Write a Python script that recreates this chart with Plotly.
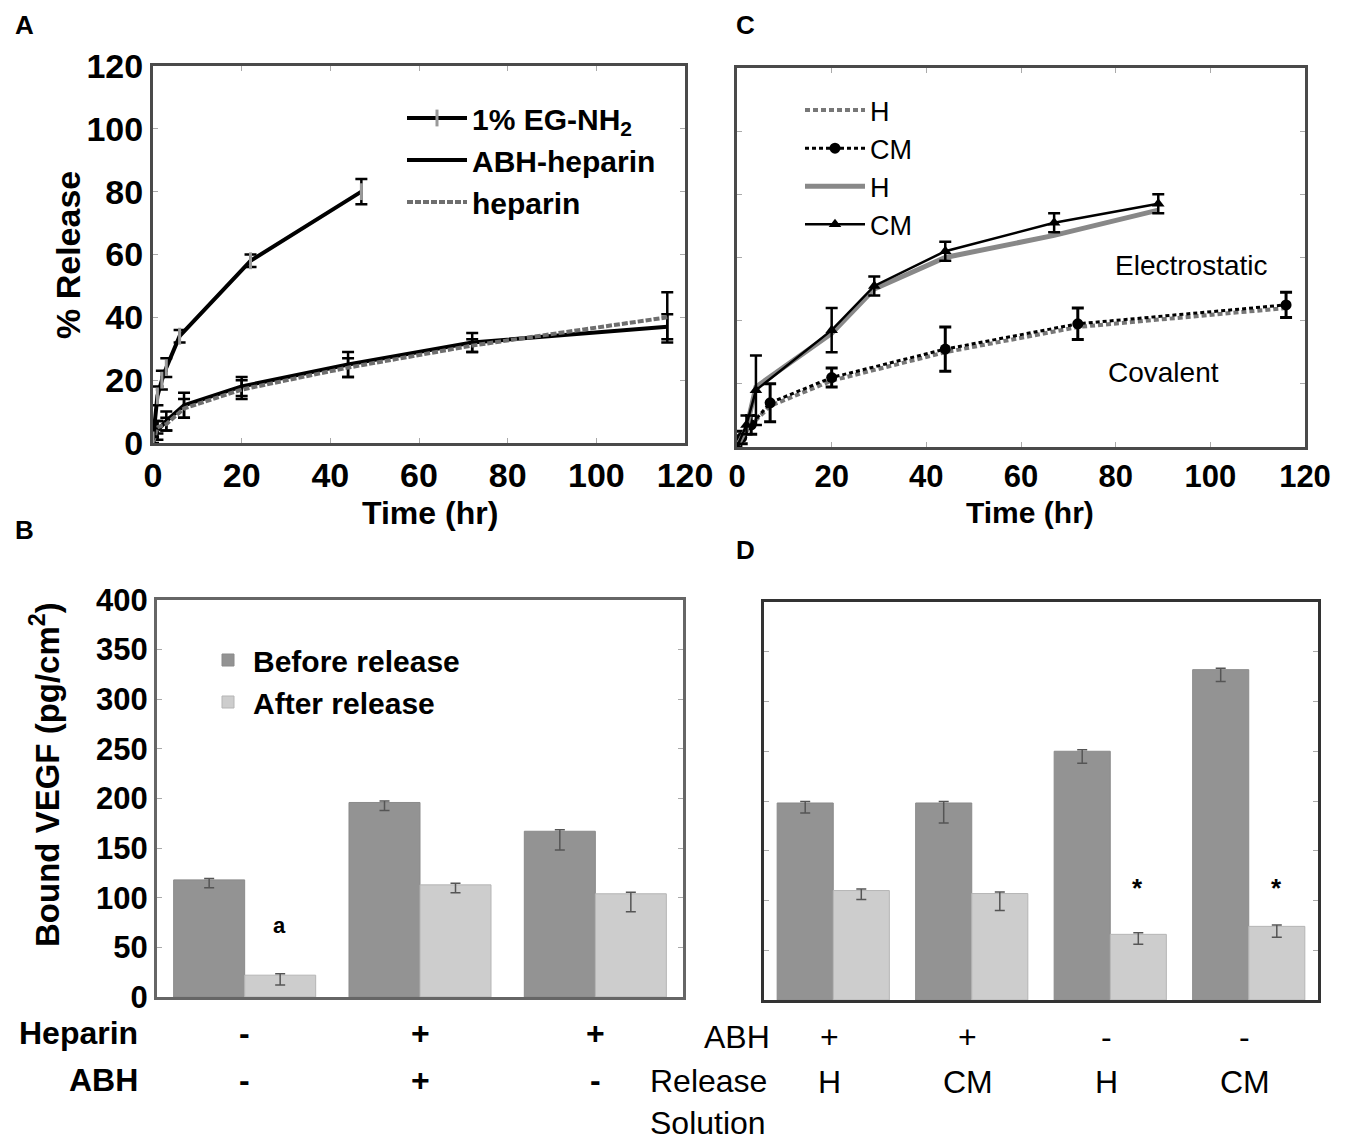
import plotly.graph_objects as go

# ---------------- data ----------------
# Panel A: % release vs time
a_t_eg = [0, 1, 2, 3, 6, 22, 47]
a_y_eg = [1, 15, 20, 24, 34, 58, 80]
a_e_eg = [1, 3, 3, 3, 2, 2, 4]

a_t_abh = [0, 1, 3, 7, 20, 44, 72, 116]
a_y_abh = [0, 4, 7, 12, 18, 25, 32, 37]
a_e_abh = [1, 3, 3, 4, 3, 4, 3, 4]

a_t_hep = [0, 1, 3, 7, 20, 44, 72, 116]
a_y_hep = [0, 5, 6, 11, 17, 24, 31, 40]
a_e_hep = [1, 2, 2, 3, 3, 3, 2, 8]

# Panel C: covalent vs electrostatic
c_t_cov = [0, 1, 3, 7, 20, 44, 72, 116]
c_y_cov_h = [0, 3, 7, 13, 21, 30, 38, 44]
c_y_cov_cm = [0, 3, 7, 14, 22, 31, 39, 45]
c_e_cov_cm = [1, 2, 3, 6, 3, 7, 5, 4]

c_t_el = [0, 2, 4, 20, 29, 44, 67, 89]
c_y_el_h = [0, 6, 19, 36, 50, 60, 67, 75]
c_y_el_cm = [0, 7, 18, 37, 51, 62, 71, 77]
c_e_el = [1, 3, 11, 7, 3, 3, 3, 3]

# Panel B: bound VEGF
b_groups = ["no heparin", "ABH-heparin", "heparin"]
b_before = [118, 196, 167]
b_before_minus = [8, 8, 19]
b_after = [22, 113, 104]
b_after_minus = [10, 8, 18]
b_heparin = ["-", "+", "+"]
b_abh = ["-", "+", "-"]

# Panel D
d_groups = ["ABH+ H", "ABH+ CM", "ABH- H", "ABH- CM"]
d_before = [198, 198, 250, 332]
d_before_minus = [10, 20, 12, 12]
d_after = [110, 107, 66, 74]
d_after_minus = [9, 17, 10, 11]
d_abh = ["+", "+", "-", "-"]
d_solution = ["H", "CM", "H", "CM"]

# ---------------- styling ----------------
FONT = "Liberation Sans, Arial, sans-serif"
BOLD = dict(family=FONT, size=34, color="black", weight="bold")
W, H = 1347, 1138
OX, OY = 8, 8  # page body margin


def X(p):
    return (p - OX) / W


def Y(p):
    return 1 - (p - OY) / H


def px(x0, x1):
    return [X(x0), X(x1)]


def py(top, bottom):
    return [Y(bottom), Y(top)]


fig = go.Figure()

# ---- Panel A ----
eb = lambda arr, c="black", w=6, t=2.5: dict(type="data", array=arr, color=c, thickness=t, width=w)
fig.add_trace(go.Scatter(x=a_t_abh, y=a_y_abh, mode="lines", name="ABH-heparin",
                         line=dict(color="black", width=4), error_y=eb(a_e_abh),
                         xaxis="x", yaxis="y", legend="legend", legendrank=2))
fig.add_trace(go.Scatter(x=a_t_hep, y=a_y_hep, mode="lines", name="heparin",
                         line=dict(color="#6e6e6e", width=4, dash="6px,2px"), error_y=eb(a_e_hep),
                         xaxis="x", yaxis="y", legend="legend", legendrank=3))
fig.add_trace(go.Scatter(x=a_t_eg, y=a_y_eg, mode="lines+markers", name="1% EG-NH<sub>2</sub>",
                         line=dict(color="black", width=4),
                         marker=dict(symbol="line-ns", size=12, line=dict(color="#999", width=3)),
                         error_y=eb(a_e_eg), xaxis="x", yaxis="y", legend="legend", legendrank=1))

# ---- Panel C ----
fig.add_trace(go.Scatter(x=c_t_cov, y=c_y_cov_h, mode="lines", name="H",
                         line=dict(color="#777", width=4, dash="5px,3px"),
                         xaxis="x2", yaxis="y2", legend="legend2", legendrank=1))
fig.add_trace(go.Scatter(x=c_t_cov, y=c_y_cov_cm, mode="lines+markers", name="CM",
                         line=dict(color="black", width=3, dash="4px,3px"),
                         marker=dict(symbol="circle", size=11, color="black"),
                         error_y=eb(c_e_cov_cm, w=6, t=3),
                         xaxis="x2", yaxis="y2", legend="legend2", legendrank=2))
fig.add_trace(go.Scatter(x=c_t_el, y=c_y_el_h, mode="lines", name="H ",
                         line=dict(color="#888", width=5),
                         xaxis="x2", yaxis="y2", legend="legend2", legendrank=3))
fig.add_trace(go.Scatter(x=c_t_el, y=c_y_el_cm, mode="lines+markers", name="CM ",
                         line=dict(color="black", width=2.5),
                         marker=dict(symbol="triangle-up", size=11, color="black"),
                         error_y=eb(c_e_el, w=6, t=2.5),
                         xaxis="x2", yaxis="y2", legend="legend2", legendrank=4))

# ---- Panel B ----
bar_err = lambda m: dict(type="data", symmetric=False, array=[1.5] * len(m), arrayminus=m,
                         color="#555", thickness=1.5, width=5)
fig.add_trace(go.Bar(x=b_groups, y=b_before, name="Before release",
                     marker=dict(color="#939393", line=dict(color="#8a8a8a", width=1)),
                     error_y=bar_err(b_before_minus), xaxis="x3", yaxis="y3", legend="legend3"))
fig.add_trace(go.Bar(x=b_groups, y=b_after, name="After release",
                     marker=dict(color="#cdcdcd", line=dict(color="#b5b5b5", width=1)),
                     error_y=bar_err(b_after_minus), xaxis="x3", yaxis="y3", legend="legend3"))

# ---- Panel D ----
fig.add_trace(go.Bar(x=d_groups, y=d_before, name="Before release", showlegend=False,
                     marker=dict(color="#939393", line=dict(color="#8a8a8a", width=1)),
                     error_y=bar_err(d_before_minus), xaxis="x4", yaxis="y4"))
fig.add_trace(go.Bar(x=d_groups, y=d_after, name="After release", showlegend=False,
                     marker=dict(color="#cdcdcd", line=dict(color="#b5b5b5", width=1)),
                     error_y=bar_err(d_after_minus), xaxis="x4", yaxis="y4"))

axis_common = dict(showgrid=False, zeroline=False, showline=True, mirror="ticks",
                   linecolor="#4a4a4a", linewidth=3, ticks="inside", ticklen=5,
                   tickcolor="#aaa", tickfont=BOLD, automargin=False)

annotations = []


def ann(text, x, y, size=34, bold=True, xanchor="center", yanchor="middle", angle=0,
        xref="paper", yref="paper", color="black", align="center"):
    f = dict(family=FONT, size=size, color=color)
    if bold:
        f["weight"] = "bold"
    annotations.append(dict(text=text, x=x, y=y, xref=xref, yref=yref, showarrow=False,
                            xanchor=xanchor, yanchor=yanchor, textangle=angle, font=f,
                            align=align))


# panel letters
ann("A", X(24), Y(25), size=26)
ann("C", X(745), Y(25), size=26)
ann("B", X(24), Y(530), size=26)
ann("D", X(745), Y(550), size=26)

# axis titles
ann("% Release", X(68), Y(255), size=34, angle=-90)
ann("Time (hr)", X(430), Y(513), size=32)
ann("Time (hr)", X(1030), Y(513), size=30)
ann("Bound VEGF (pg/cm<sup>2</sup>)", X(45), Y(775), size=33, angle=-90)

# panel C labels
ann("Electrostatic", 96, 57.5, size=28, bold=False, xref="x2", yref="y2")
ann("Covalent", 90, 23.5, size=28, bold=False, xref="x2", yref="y2")

# significance marks
ann("a", 0.2, 72, size=22, xref="x3", yref="y3")
ann("*", 2.2, 113, size=26, xref="x4", yref="y4")
ann("*", 3.2, 113, size=26, xref="x4", yref="y4")

# row labels for B
ann("Heparin", X(140), Y(1033), size=32, xanchor="right")
ann("ABH", X(140), Y(1080), size=32, xanchor="right")
for i, (h, a) in enumerate(zip(b_heparin, b_abh)):
    ann(h, i, Y(1033), size=32, xref="x3")
    ann(a, i, Y(1080), size=32, xref="x3")

# row labels for D
ann("ABH", X(772), Y(1037), size=32, bold=False, xanchor="right")
ann("Release<br>Solution", X(648), Y(1102), size=32, bold=False, xanchor="left",
    align="left")
for i, (a, s) in enumerate(zip(d_abh, d_solution)):
    ann(a, i - 0.03, Y(1037), size=32, bold=False, xref="x4")
    ann(s, i - 0.03, Y(1082), size=32, bold=False, xref="x4")

legend_font = dict(family=FONT, size=30, color="black", weight="bold")

fig.update_layout(
    width=W, height=H, margin=dict(l=0, r=0, t=0, b=0, pad=0, autoexpand=False),
    paper_bgcolor="white", plot_bgcolor="white",
    barmode="group", bargap=0.19, bargroupgap=0,
    showlegend=True,
    xaxis=dict(axis_common, domain=px(153, 685), range=[0, 120], dtick=20, anchor="y"),
    yaxis=dict(axis_common, domain=py(66, 443), range=[0, 120], dtick=20, anchor="x"),
    xaxis2=dict(axis_common, domain=px(737, 1305), range=[0, 120], dtick=20, anchor="y2",
                tickfont=dict(BOLD, size=31)),
    yaxis2=dict(axis_common, domain=py(68, 447), range=[0, 120], dtick=20, anchor="x2",
                showticklabels=False),
    xaxis3=dict(axis_common, domain=px(157, 683), anchor="y3", showticklabels=False,
                ticks="", linecolor="#666"),
    yaxis3=dict(axis_common, domain=py(600, 997), range=[0, 400], dtick=50, anchor="x3",
                tickfont=dict(BOLD, size=31), linecolor="#666"),
    xaxis4=dict(axis_common, domain=px(764, 1318), anchor="y4", showticklabels=False,
                ticks="", linecolor="#333"),
    yaxis4=dict(axis_common, domain=py(602, 1000), range=[0, 400], dtick=50, anchor="x4",
                showticklabels=False, linecolor="#333"),
    legend=dict(x=X(402), y=Y(92), xanchor="left", yanchor="top", font=legend_font,
                bgcolor="rgba(0,0,0,0)", tracegroupgap=0, itemwidth=60),
    legend2=dict(x=X(800), y=Y(86), xanchor="left", yanchor="top",
                 font=dict(family=FONT, size=27, color="black"), bgcolor="rgba(0,0,0,0)",
                 itemwidth=60),
    legend3=dict(x=X(203), y=Y(634), xanchor="left", yanchor="top", font=legend_font,
                 bgcolor="rgba(0,0,0,0)", itemwidth=40),
    annotations=annotations,
)

fig.write_html("out.html")
